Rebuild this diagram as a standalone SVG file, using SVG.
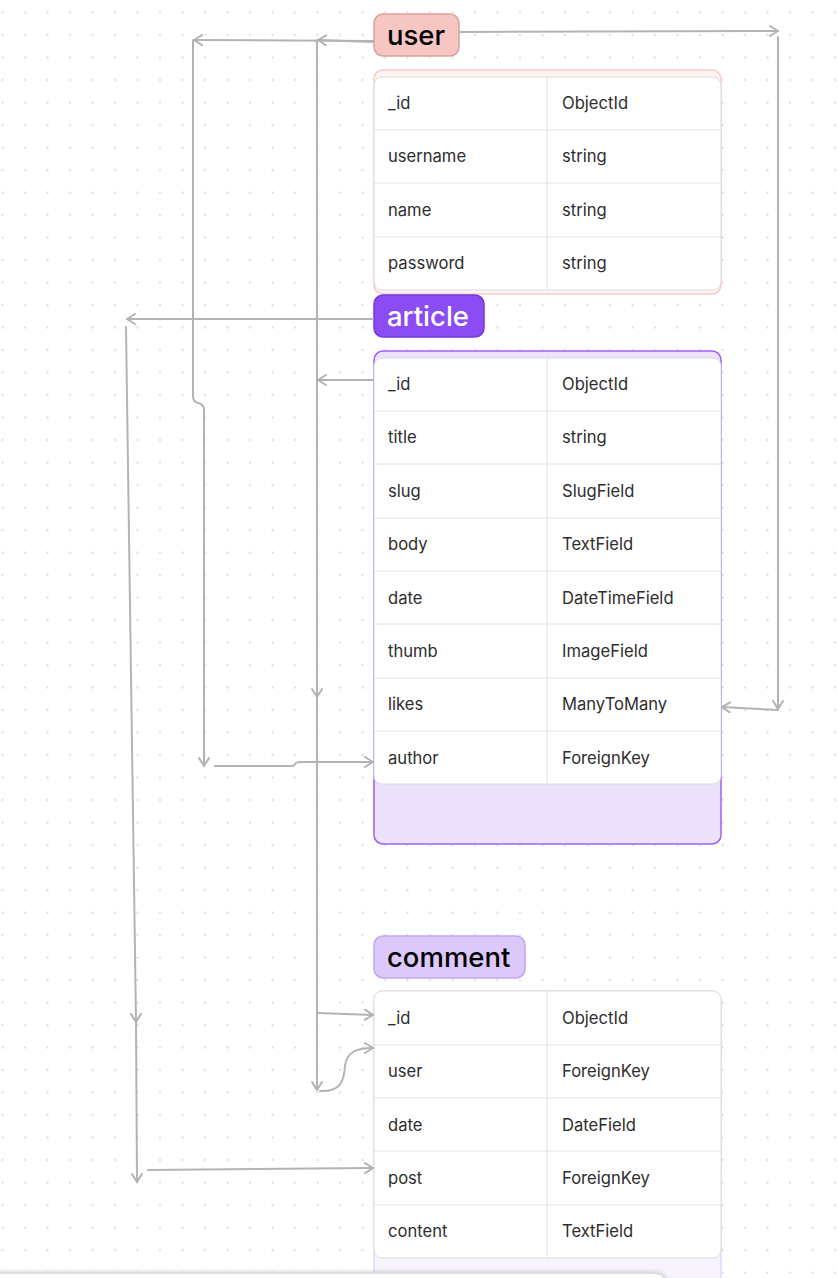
<svg xmlns="http://www.w3.org/2000/svg" width="838" height="1278" viewBox="0 0 838 1278">
  <defs>
    <pattern id="dots" x="0" y="0" width="22.5" height="22.5" patternUnits="userSpaceOnUse">
      <circle cx="2.5" cy="12.5" r="1" fill="#cdcdcd"/>
    </pattern>
    <marker id="arr" viewBox="0 0 12 12" refX="10" refY="6" markerWidth="12" markerHeight="12" markerUnits="userSpaceOnUse" orient="auto-start-reverse">
      <path d="M2,1 L10,6 L2,11" fill="none" stroke="#b3b3b3" stroke-width="2" stroke-linecap="round" stroke-linejoin="round"/>
    </marker>
    <filter id="sh" x="-10%" y="-200%" width="120%" height="500%">
      <feDropShadow dx="0" dy="-1" stdDeviation="2" flood-color="#000" flood-opacity="0.15"/>
    </filter>
  </defs>
  <style>
    .hdr { font-family: Inter, "Noto Sans", "Liberation Sans", sans-serif; font-size: 27.5px; font-weight: 500; }
    .cell { font-family: Inter, "Noto Sans", "Liberation Sans", sans-serif; font-size: 16.6px; fill: #2e2e2e; }
    .tbl { fill: #ffffff; stroke: #dcdcdc; stroke-width: 1; }
    .grid { stroke: #e2e2e2; stroke-width: 1; }
    .conn path { fill: none; stroke: #b3b3b3; stroke-width: 2; stroke-linecap: round; stroke-linejoin: round; }
  </style>

  <rect x="0" y="0" width="838" height="1278" fill="#ffffff"/>
  <rect x="0" y="0" width="838" height="1278" fill="url(#dots)"/>

  <!-- user -->
  <g id="user">
    <rect x="374" y="70" width="347" height="224" rx="9" fill="#fff4f3" stroke="#f9cbc6" stroke-width="1.5"/>
    <rect class="tbl" x="374" y="77" width="347" height="213" rx="8"/>
    <line class="grid" x1="374" y1="130" x2="721" y2="130"/>
    <line class="grid" x1="374" y1="183" x2="721" y2="183"/>
    <line class="grid" x1="374" y1="237" x2="721" y2="237"/>
    <line class="grid" x1="547" y1="77" x2="547" y2="290"/>
    <text class="cell" x="388" y="109">_id</text><text class="cell" x="562" y="109">ObjectId</text>
    <text class="cell" x="388" y="162">username</text><text class="cell" x="562" y="162">string</text>
    <text class="cell" x="388" y="216">name</text><text class="cell" x="562" y="216">string</text>
    <text class="cell" x="388" y="269">password</text><text class="cell" x="562" y="269">string</text>
    <rect x="374" y="14" width="85" height="42" rx="9" fill="#f6c6c2" stroke="#d9a29e" stroke-width="1.5"/>
    <text class="hdr" x="387" y="45" fill="#000">user</text>
  </g>

  <!-- article -->
  <g id="article">
    <rect x="374" y="351" width="347" height="493" rx="9" fill="#ece2fb" stroke="#9d62f5" stroke-width="1.5"/>
    <rect class="tbl" x="374" y="358" width="347" height="426" rx="8"/>
    <line class="grid" x1="374" y1="411" x2="721" y2="411"/>
    <line class="grid" x1="374" y1="464" x2="721" y2="464"/>
    <line class="grid" x1="374" y1="518" x2="721" y2="518"/>
    <line class="grid" x1="374" y1="571" x2="721" y2="571"/>
    <line class="grid" x1="374" y1="624" x2="721" y2="624"/>
    <line class="grid" x1="374" y1="678" x2="721" y2="678"/>
    <line class="grid" x1="374" y1="731" x2="721" y2="731"/>
    <line class="grid" x1="547" y1="358" x2="547" y2="784"/>
    <text class="cell" x="388" y="390">_id</text><text class="cell" x="562" y="390">ObjectId</text>
    <text class="cell" x="388" y="443">title</text><text class="cell" x="562" y="443">string</text>
    <text class="cell" x="388" y="497">slug</text><text class="cell" x="562" y="497">SlugField</text>
    <text class="cell" x="388" y="550">body</text><text class="cell" x="562" y="550">TextField</text>
    <text class="cell" x="388" y="604">date</text><text class="cell" x="562" y="604">DateTimeField</text>
    <text class="cell" x="388" y="657">thumb</text><text class="cell" x="562" y="657">ImageField</text>
    <text class="cell" x="388" y="710">likes</text><text class="cell" x="562" y="710">ManyToMany</text>
    <text class="cell" x="388" y="764">author</text><text class="cell" x="562" y="764">ForeignKey</text>
    <rect x="374" y="295" width="110" height="42" rx="9" fill="#8b4cf4" stroke="#7537e0" stroke-width="1.5"/>
    <text class="hdr" x="387" y="326" fill="#ffffff">article</text>
  </g>

  <!-- comment -->
  <g id="comment">
    <rect x="374" y="991" width="347" height="320" rx="9" fill="#f8f4fe" stroke="#e2d7f8" stroke-width="1.5"/>
    <rect class="tbl" x="374" y="991" width="347" height="267" rx="8"/>
    <line class="grid" x1="374" y1="1045" x2="721" y2="1045"/>
    <line class="grid" x1="374" y1="1098" x2="721" y2="1098"/>
    <line class="grid" x1="374" y1="1151" x2="721" y2="1151"/>
    <line class="grid" x1="374" y1="1205" x2="721" y2="1205"/>
    <line class="grid" x1="547" y1="991" x2="547" y2="1258"/>
    <text class="cell" x="388" y="1024">_id</text><text class="cell" x="562" y="1024">ObjectId</text>
    <text class="cell" x="388" y="1077">user</text><text class="cell" x="562" y="1077">ForeignKey</text>
    <text class="cell" x="388" y="1131">date</text><text class="cell" x="562" y="1131">DateField</text>
    <text class="cell" x="388" y="1184">post</text><text class="cell" x="562" y="1184">ForeignKey</text>
    <text class="cell" x="388" y="1237">content</text><text class="cell" x="562" y="1237">TextField</text>
    <rect x="374" y="936" width="151" height="42" rx="9" fill="#dcc9fa" stroke="#c2a5ee" stroke-width="1.5"/>
    <text class="hdr" x="387" y="967" fill="#000">comment</text>
  </g>

  <!-- connectors -->
  <g id="connectors" class="conn">
    <path d="M373,41 L194,40" marker-end="url(#arr)"/>
    <path d="M373,42 L318,40" marker-end="url(#arr)"/>
    <path d="M193,40 L193,396 Q193,402 198,403 Q204,404 204,410 L204,766" marker-end="url(#arr)"/>
    <path d="M215,766 L291,766 Q295,766 295,764 Q296,762 300,762 L373,762" marker-end="url(#arr)"/>
    <path d="M317,40 L317,697" marker-end="url(#arr)"/>
    <path d="M317,697 L317,1090" marker-end="url(#arr)"/>
    <path d="M373,380 L318,380" marker-end="url(#arr)"/>
    <path d="M318,1013 L373,1015" marker-end="url(#arr)"/>
    <path d="M320,1091 C340,1092 344,1082 345,1066 C347,1052 356,1048 373,1048" marker-end="url(#arr)"/>
    <path d="M373,319 L127,319" marker-end="url(#arr)"/>
    <path d="M126,327 L136,1022" marker-end="url(#arr)"/>
    <path d="M136,1022 L137,1182" marker-end="url(#arr)"/>
    <path d="M148,1170 L373,1168" marker-end="url(#arr)"/>
    <path d="M460,32 L778,31" marker-end="url(#arr)"/>
    <path d="M778,37 L778,709" marker-end="url(#arr)"/>
    <path d="M778,710 L722,707" marker-end="url(#arr)"/>
  </g>

  <!-- bottom panel -->
  <rect x="-20" y="1273" width="688" height="40" rx="14" fill="#ffffff" stroke="#d6d6d6" stroke-width="1.5" filter="url(#sh)"/>
</svg>
